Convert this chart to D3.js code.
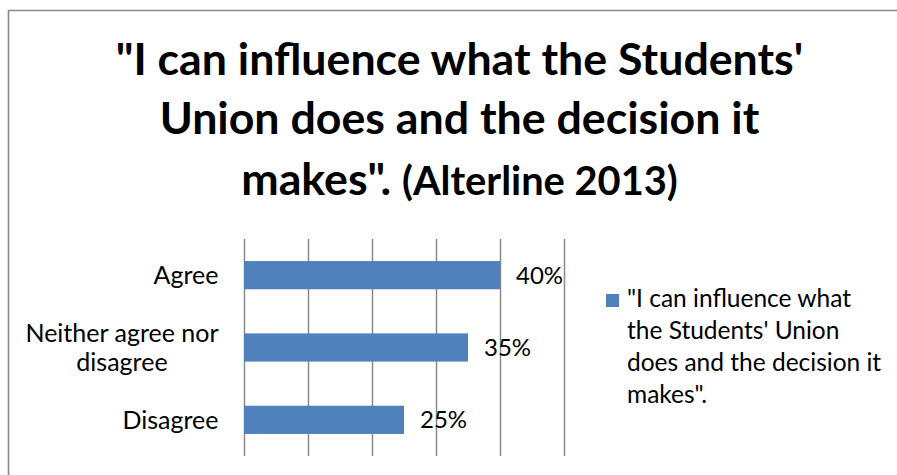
<!DOCTYPE html>
<html>
<head>
<meta charset="utf-8">
<script src="https://cdn.jsdelivr.net/npm/d3@7"></script>
<style>
  html, body { margin: 0; padding: 0; background: #fff; }
  svg { display: block; font-family: Lato, "Open Sans", sans-serif; }
</style>
</head>
<body>
<svg id="chart" width="897" height="475"></svg>
<script>
// Survey responses
const categories = ["Agree", "Neither agree nor disagree", "Disagree"];
const categoryLines = [["Agree"], ["Neither agree nor", "disagree"], ["Disagree"]];
const values = [0.40, 0.35, 0.25];
const valueLabels = ["40%", "35%", "25%"];
const gridTicks = [0, 0.1, 0.2, 0.3, 0.4, 0.5];
const titleLines = ["\"I can influence what the Students'", "Union does and the decision it"];
const titleLast = "makes\". ";
const titleSource = "(Alterline 2013)";
const legendLines = ["\"I can influence what", "the Students' Union", "does and the decision it", "makes\"."];

const W = 897, H = 475;
const svg = d3.select("#chart");
const barColor = "#4F81BD";
const gridColor = "#898989";

// Outer frame (open on the right and bottom)
svg.append("rect").attr("x", 0).attr("y", 0).attr("width", W).attr("height", H).attr("fill", "#fff");
svg.append("path")
  .attr("d", `M8.5,${H} V10.5 H${W}`)
  .attr("fill", "none").attr("stroke", "#8a8a8a").attr("stroke-width", 1.6);

// Title
const title = svg.append("g").attr("font-weight", 700).attr("fill", "#000").attr("text-anchor", "middle");
const tx = 459.5;
const titleBase = [75, 134];
titleLines.forEach((t, i) => {
  title.append("text").attr("x", tx).attr("y", titleBase[i]).attr("font-size", 44.7).text(t);
});
const t3 = title.append("text").attr("x", tx).attr("y", 194.5);
t3.append("tspan").attr("font-size", 44.7).text(titleLast);
t3.append("tspan").attr("font-size", 39.8).text(titleSource);

// Plot area
const plot = { left: 244, right: 564, top: 239, bottom: 456 };
const x = d3.scaleLinear().domain([0, 0.5]).range([plot.left, plot.right]);
const y = d3.scaleBand().domain(categories).range([plot.top, plot.bottom])
  .paddingInner(0.61).paddingOuter(0.305);

// Vertical gridlines
const grid = svg.append("g")
  .attr("transform", `translate(0,${plot.bottom})`)
  .call(d3.axisBottom(x).tickValues(gridTicks).tickSize(-(plot.bottom - plot.top)).tickFormat(""));
grid.select(".domain").remove();
grid.selectAll(".tick line").attr("stroke", gridColor).attr("stroke-width", 1.5);

// Bars
svg.append("g").selectAll("rect")
  .data(categories)
  .join("rect")
  .attr("x", x(0))
  .attr("y", d => y(d))
  .attr("width", (d, i) => x(values[i]) - x(0))
  .attr("height", y.bandwidth())
  .attr("fill", barColor);

// Value labels
svg.append("g").selectAll("text")
  .data(categories)
  .join("text")
  .attr("x", (d, i) => x(values[i]) + 16)
  .attr("y", d => y(d) + y.bandwidth() / 2)
  .attr("dy", "0.36em")
  .attr("font-size", 24)
  .attr("fill", "#000")
  .text((d, i) => valueLabels[i]);

// Category labels, block right-aligned, lines centred within the block
const labelRight = 218.5;
const lineGap = 29;
const catG = svg.append("g").attr("font-size", 25).attr("fill", "#000");
categories.forEach((c, i) => {
  const lines = categoryLines[i];
  const cy = y(c) + y.bandwidth() / 2;
  const texts = lines.map((ln, j) =>
    catG.append("text")
      .attr("y", cy + (j - (lines.length - 1) / 2) * lineGap)
      .attr("dy", "0.36em")
      .attr("text-anchor", "middle")
      .text(ln));
  const maxW = d3.max(texts, t => t.node().getComputedTextLength());
  texts.forEach(t => t.attr("x", labelRight - maxW / 2));
});

// Legend
const legend = svg.append("g");
legend.append("rect").attr("x", 606).attr("y", 294).attr("width", 13).attr("height", 13).attr("fill", barColor);
legendLines.forEach((ln, i) => {
  legend.append("text")
    .attr("x", 627).attr("y", 306.5 + i * 32.3)
    .attr("font-size", 24.5).attr("fill", "#000")
    .text(ln);
});
</script>
</body>
</html>
